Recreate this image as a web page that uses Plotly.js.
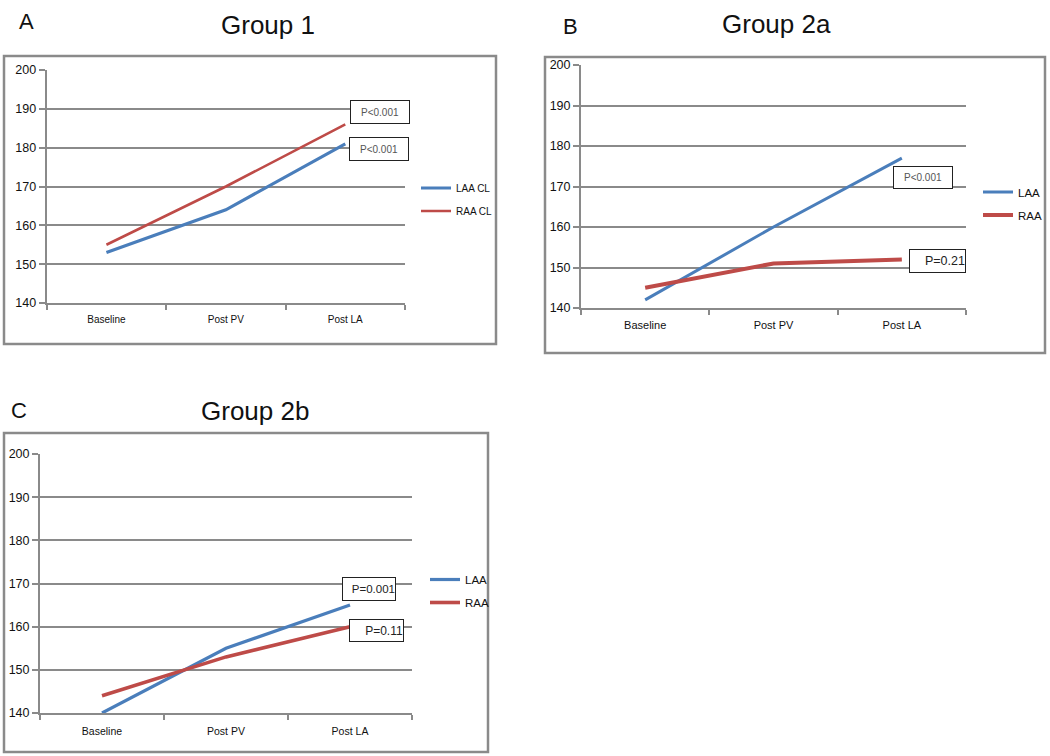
<!DOCTYPE html>
<html>
<head>
<meta charset="utf-8">
<script src="https://cdn.plot.ly/plotly-3.0.1.min.js"></script>
<style>html,body{margin:0;padding:0;background:#fff;}#chart{width:1050px;height:756px;}</style>
</head>
<body>
<div id="chart"></div>
<script>
// ---- data ----
const categories = ['Baseline', 'Post PV', 'Post LA'];
const group1_LAA = [153, 164, 181];
const group1_RAA = [155, 170, 186];
const group2a_LAA = [142, 160, 177];
const group2a_RAA = [145, 151, 152];
const group2b_LAA = [140, 155, 165];
const group2b_RAA = [144, 153, 160];
const panelTitles = ['Group 1', 'Group 2a', 'Group 2b'];
const panelLetters = ['A', 'B', 'C'];
const namesA = ['LAA CL', 'RAA CL'];
const namesBC = ['LAA', 'RAA'];
const pLabels = ['P<0.001', 'P<0.001', 'P<0.001', 'P=0.21', 'P=0.001', 'P=0.11'];
const yTicks = [140, 150, 160, 170, 180, 190, 200];

// ---- styling ----
const W = 1050, H = 756;
const BLUE = '#4a7ebb', RED = '#be4b48', GRID = '#8a8a8a';
const FONT = 'Liberation Sans, Arial, sans-serif';
const px = v => v / W;
const py = v => 1 - v / H;

function tr(x, y, name, color, width, xa, ya, leg, grp) {
  return {x: x, y: y, name: name, type: 'scatter', mode: 'lines',
    line: {color: color, width: width}, xaxis: xa, yaxis: ya,
    legend: leg, legendgroup: grp, hoverinfo: 'skip'};
}

const data = [
  tr(categories, group1_LAA, namesA[0], BLUE, 3.2, 'x', 'y', 'legend', 'a1'),
  tr(categories, group1_RAA, namesA[1], RED, 2.6, 'x', 'y', 'legend', 'a2'),
  tr(categories, group2a_LAA, namesBC[0], BLUE, 3, 'x2', 'y2', 'legend2', 'b1'),
  tr(categories, group2a_RAA, namesBC[1], RED, 4, 'x2', 'y2', 'legend2', 'b2'),
  tr(categories, group2b_LAA, namesBC[0], BLUE, 3.2, 'x3', 'y3', 'legend3', 'c1'),
  tr(categories, group2b_RAA, namesBC[1], RED, 3.6, 'x3', 'y3', 'legend3', 'c2')
];

function xaxis(domain, anchor, fs, standoff) {
  return {domain: domain, anchor: anchor, type: 'category', range: [-0.5, 2.5],
    tickson: 'boundaries', ticks: 'outside', ticklen: 5, tickcolor: GRID, tickwidth: 2,
    showline: true, linecolor: GRID, linewidth: 2, showgrid: false, zeroline: false,
    tickfont: {family: FONT, size: fs, color: '#111'}, ticklabelstandoff: standoff, fixedrange: true};
}
function yaxis(domain, anchor, fs) {
  return {domain: domain, anchor: anchor, range: [140, 200], tickvals: yTicks,
    ticks: 'outside', ticklen: 6, tickcolor: GRID, tickwidth: 2,
    showline: true, linecolor: GRID, linewidth: 2, showgrid: true, gridcolor: GRID, gridwidth: 2,
    zeroline: false, tickfont: {family: FONT, size: fs, color: '#111'}, fixedrange: true};
}
function legend(xpx, ypx, fs) {
  return {x: px(xpx), y: py(ypx), xanchor: 'left', yanchor: 'middle', bgcolor: 'rgba(0,0,0,0)',
    traceorder: 'grouped', tracegroupgap: 4, font: {family: FONT, size: fs, color: '#111'}};
}
function frame(x0, y0, x1, y1) {
  return {type: 'rect', xref: 'paper', yref: 'paper', x0: px(x0), x1: px(x1), y0: py(y1), y1: py(y0),
    line: {color: GRID, width: 2.5}, fillcolor: 'rgba(0,0,0,0)', layer: 'below'};
}
function textAnn(text, xc, yc, size) {
  return {text: text, xref: 'paper', yref: 'paper', x: px(xc), y: py(yc), xanchor: 'center', yanchor: 'middle',
    showarrow: false, font: {family: FONT, size: size, color: '#111'}};
}
function box(text, xc, yc, w, h, size, color, align) {
  return {text: text, xref: 'paper', yref: 'paper', x: px(xc), y: py(yc), xanchor: 'center', yanchor: 'middle',
    showarrow: false, width: w, height: h, align: align, valign: 'middle', borderpad: 0,
    bordercolor: '#222', borderwidth: 1, bgcolor: '#fff', font: {family: FONT, size: size, color: color}};
}

const layout = {
  width: W, height: H, margin: {l: 0, r: 0, t: 0, b: 0},
  paper_bgcolor: '#fff', plot_bgcolor: 'rgba(0,0,0,0)',
  xaxis: xaxis([px(46.7), px(405)], 'y', 10, 6),
  yaxis: yaxis([py(303), py(70)], 'x', 12.5),
  xaxis2: xaxis([px(581), px(966)], 'y2', 11, 6),
  yaxis2: yaxis([py(308), py(65)], 'x2', 12.5),
  xaxis3: xaxis([px(40), px(412)], 'y3', 10.5, 7),
  yaxis3: yaxis([py(713), py(454)], 'x3', 12.5),
  legend: legend(416, 199.5, 10),
  legend2: legend(978, 203.5, 11.5),
  legend3: legend(425, 591, 11.5),
  shapes: [frame(4, 56, 496, 344), frame(545, 57, 1045, 353), frame(4, 433, 488, 752)],
  annotations: [
    textAnn(panelLetters[0], 26, 22, 22), textAnn(panelTitles[0], 268, 25, 26),
    textAnn(panelLetters[1], 570, 26, 22), textAnn(panelTitles[1], 776, 24, 26),
    textAnn(panelLetters[2], 19, 410, 22), textAnn(panelTitles[2], 255, 411, 26),
    box(pLabels[0], 380, 112, 58, 22, 10, '#555', 'center'),
    box(pLabels[1], 379, 149, 58, 22, 10, '#555', 'center'),
    box(pLabels[2], 923, 177.5, 58, 21, 10, '#555', 'center'),
    box(pLabels[3], 937.5, 261, 55, 22, 12.5, '#222', 'right'),
    box(pLabels[4], 369, 589, 52, 22, 11.5, '#222', 'right'),
    box(pLabels[5], 376.5, 630.5, 53, 21, 12, '#222', 'right')
  ],
  showlegend: true
};

Plotly.newPlot('chart', data, layout, {staticPlot: true, displayModeBar: false});
</script>
</body>
</html>
